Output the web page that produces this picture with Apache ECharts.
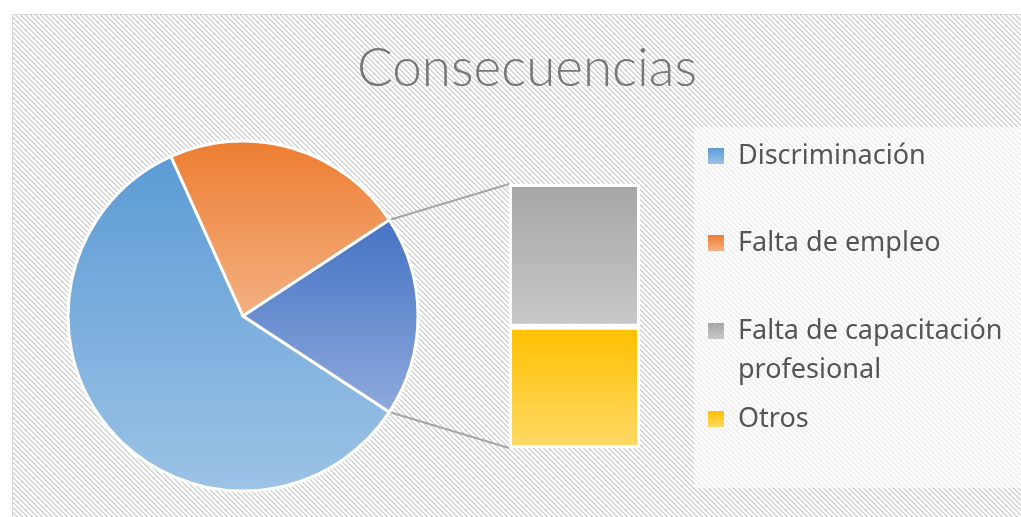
<!DOCTYPE html>
<html lang="es">
<head>
<meta charset="utf-8">
<title>Consecuencias</title>
<script src="https://cdn.jsdelivr.net/npm/echarts@6/dist/echarts.min.js"></script>
<style>
    html, body { margin: 0; padding: 0; background: #fff; }
    #chart { width: 1021px; height: 517px; }
</style>
</head>
<body>
<div id="chart"></div>
<script>
// datos del grafico (circular con barra)
var pieNames = ['Discriminación', 'Falta de empleo'];
var pieValues = [59, 22.5];
var barNames = ['Falta de capacitación profesional', 'Otros'];
var barValues = [10, 8.5];
var restName = 'Resto';

var restTotal = barValues[0] + barValues[1];
var total = pieValues[0] + pieValues[1] + restTotal;

function grad(top, bottom) {
    return new echarts.graphic.LinearGradient(0, 0, 0, 1, [
        {offset: 0, color: top},
        {offset: 1, color: bottom}
    ]);
}

// fondo rayado tipo Excel
function hatch() {
    var n = 5;
    var c = document.createElement('canvas');
    c.width = n; c.height = n;
    var g = c.getContext('2d');
    g.fillStyle = '#ffffff';
    g.fillRect(0, 0, n, n);
    g.fillStyle = '#d6d6d6';
    for (var y = 0; y < n; y++) {
        for (var x = 0; x < n; x++) {
            if (((x - y) % n + n) % n < 2) g.fillRect(x, y, 1, 1);
        }
    }
    return c;
}

var pieColors = [grad('#5b9bd5', '#9dc3e6'), grad('#ed7d31', '#f4b183')];
var restColor = grad('#4472c4', '#8faadc');
var barColors = [grad('#a5a5a5', '#c9c9c9'), grad('#ffc000', '#ffd966')];

var pieData = pieNames.map(function (n, i) {
    return {name: n, value: pieValues[i], itemStyle: {color: pieColors[i]}};
});
pieData.push({name: restName, value: restTotal, itemStyle: {color: restColor}});

var cx = 243, cy = 316, r = 175;

var legendFont = {color: '#555555', fontSize: 27, fontFamily: 'Noto Sans', lineHeight: 39, padding: [0, 0, 0, 9]};
function legendAt(name, y, fmt) {
    var l = {
        data: [name], left: 708, top: y - 19.5, padding: 0,
        icon: 'rect', itemWidth: 16, itemHeight: 16,
        itemStyle: {borderWidth: 0},
        textStyle: legendFont,
        selectedMode: false
    };
    if (fmt) {
        // linea vacia arriba para que el icono quede en la primera linea
        l.formatter = function () { return '\n' + fmt; };
        l.top = y - 58.5;
    }
    return l;
}
var legends = [
    legendAt(pieNames[0], 156),
    legendAt(pieNames[1], 243),
    legendAt(barNames[0], 331, 'Falta de capacitación\nprofesional'),
    legendAt(barNames[1], 419)
];

function background() {
    return [
        {type: 'rect', z: -10, shape: {x: 12.5, y: 14.5, width: 1020, height: 510},
            style: {fill: {image: hatch(), repeat: 'repeat'}, stroke: '#d9d9d9', lineWidth: 1}},
        {type: 'rect', z: -5, shape: {x: 694, y: 127, width: 327, height: 361},
            style: {fill: 'rgba(255,255,255,0.62)'}}
    ];
}

var chart = echarts.init(document.getElementById('chart'));
var option = {
    animation: false,
    title: {
        text: 'Consecuencias',
        left: 522, textAlign: 'center', top: 37,
        textStyle: {color: '#777777', fontSize: 53, fontWeight: 300, fontFamily: 'Lato'}
    },
    legend: legends,
    grid: {left: 509, top: 184, width: 131, height: 264},
    xAxis: {type: 'category', data: [restName], show: false},
    yAxis: {type: 'value', min: 0, max: restTotal, show: false},
    graphic: background(),
    series: [
        {
            type: 'pie', name: 'Consecuencias',
            center: [cx, cy], radius: r,
            startAngle: 360 - restTotal / total * 180,
            clockwise: true,
            label: {show: false}, labelLine: {show: false},
            itemStyle: {borderColor: '#fff', borderWidth: 3},
            emphasis: {disabled: true},
            data: pieData
        },
        {
            type: 'bar', name: barNames[1], stack: 'resto', barWidth: '100%',
            itemStyle: {color: barColors[1], borderColor: '#fff', borderWidth: 3},
            emphasis: {disabled: true},
            data: [barValues[1]]
        },
        {
            type: 'bar', name: barNames[0], stack: 'resto', barWidth: '100%',
            itemStyle: {color: barColors[0], borderColor: '#fff', borderWidth: 3},
            emphasis: {disabled: true},
            data: [barValues[0]]
        }
    ]
};
chart.setOption(option);

// lineas de union entre el sector "Resto" y la barra
var rect = chart.getModel().getComponent('grid').coordinateSystem.getRect();
var a = restTotal / total * Math.PI;
var px = cx + r * Math.cos(a), dy = r * Math.sin(a);
chart.setOption({
    graphic: background().concat([
        {type: 'line', shape: {x1: px, y1: cy - dy, x2: rect.x, y2: rect.y},
            style: {stroke: '#a6a6a6', lineWidth: 2}},
        {type: 'line', shape: {x1: px, y1: cy + dy, x2: rect.x, y2: rect.y + rect.height},
            style: {stroke: '#a6a6a6', lineWidth: 2}}
    ])
});
</script>
</body>
</html>
